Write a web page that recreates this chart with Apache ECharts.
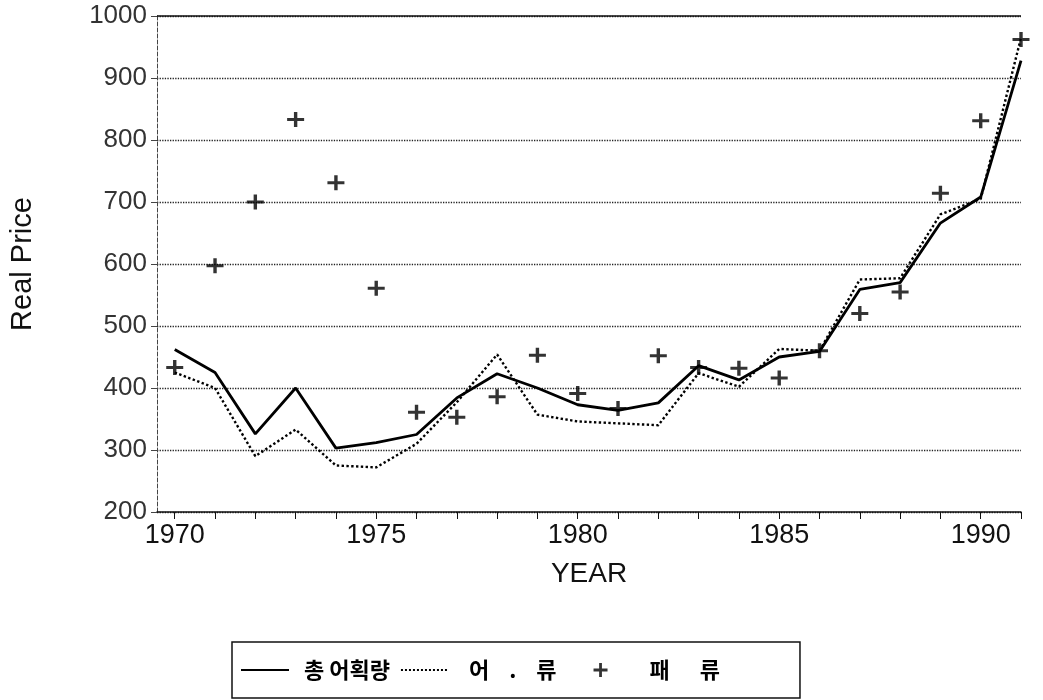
<!DOCTYPE html>
<html>
<head>
<meta charset="utf-8">
<script src="https://cdn.jsdelivr.net/npm/echarts@6/dist/echarts.min.js"></script>
<style>
  html, body { margin: 0; padding: 0; background: #fff; }
  #chart { width: 1043px; height: 700px; }
</style>
</head>
<body>
<div id="chart"></div>
<script>
const years = [1970,1971,1972,1973,1974,1975,1976,1977,1978,1979,1980,1981,1982,1983,1984,1985,1986,1987,1988,1989,1990,1991]
// 총 어획량 (solid)
const totalCatch = [462,425,326,400,303,312,325,384,423,400,373,364,376,436,413,450,459,559,570,666,708,928]
// 어 류 (dotted)
const fishes = [425,400,290,333,275,272,310,377,454,357,346,343,340,424,402,463,460,575,577,680,705,965]
// 패 류 (plus markers)
const shellfish = [433,597,700,833,731,561,361,353,386,453,391,367,452,433,432,416,460,520,555,714,831,962]
const yearLabels = [1970,1975,1980,1985,1990]
const seriesNames = ['총 어획량', '어 류', '패 류']

const pair = arr => years.map((y, i) => [y, arr[i]])
const plus = 'path://M4,0H6V4H10V6H6V10H4V6H0V4H4Z'
const font = 'Liberation Sans, Arial, sans-serif'
const krFont = 'Noto Sans CJK KR'
const hidden = { color: 'rgba(0,0,0,0)', borderColor: 'rgba(0,0,0,0)', borderWidth: 0 }
const legendText = {
  '총 어획량': '{t1|총 어획량}',
  '어 류': '{t2|어    .    류\u3000 }',
  '패 류': '{t3|패      류}'
}
const legendFont = { color: '#000', fontSize: 22, fontWeight: 'bold', fontFamily: krFont }

const option = {
  animation: false,
  grid: { left: 153, right: 22, top: 16, bottom: 188, containLabel: false },
  xAxis: {
    type: 'value',
    min: 1969.56,
    max: 1991,
    name: 'YEAR',
    nameLocation: 'middle',
    nameGap: 48,
    nameTextStyle: { color: '#111', fontSize: 28, fontFamily: font },
    axisLine: { lineStyle: { color: '#111', width: 1.5 } },
    axisTick: { show: true, length: 7, lineStyle: { color: '#111' }, customValues: years },
    axisLabel: { color: '#111', fontSize: 27, fontFamily: font, margin: 10, customValues: yearLabels, formatter: v => String(v) },
    splitLine: { show: false }
  },
  yAxis: {
    type: 'value',
    min: 200,
    max: 1000,
    interval: 100,
    name: 'Real Price',
    nameLocation: 'middle',
    nameRotate: 90,
    nameGap: 120,
    nameTextStyle: { color: '#111', fontSize: 29, fontFamily: font },
    axisLine: { show: true, lineStyle: { color: '#444', type: 'dashed', width: 1 } },
    axisTick: { show: true, length: 6, lineStyle: { color: '#444' } },
    axisLabel: { color: '#333', fontSize: 26, fontFamily: font, margin: 10, formatter: v => String(v) },
    splitLine: { show: true, lineStyle: { color: '#222', type: 'dotted', width: 1.3 } }
  },
  legend: {
    left: 232,
    bottom: 2,
    padding: [17, 80, 17, 8],
    borderColor: '#111',
    borderWidth: 1.5,
    itemWidth: 48,
    itemHeight: 14,
    itemGap: 10,
    formatter: name => legendText[name],
    textStyle: {
      ...legendFont,
      rich: {
        t1: { ...legendFont, padding: [0, 0, 0, 10] },
        t2: { ...legendFont, padding: [0, 0, 0, 15] },
        t3: { ...legendFont, padding: [0, 0, 0, 20] }
      }
    },
    data: [
      { name: seriesNames[0], itemStyle: hidden },
      { name: seriesNames[1], itemStyle: hidden },
      { name: seriesNames[2], icon: plus, itemStyle: { color: '#000' } }
    ]
  },
  series: [
    {
      name: seriesNames[0],
      type: 'line',
      data: pair(totalCatch),
      symbol: 'none',
      lineStyle: { color: '#000', width: 2.8 },
      itemStyle: { color: '#000' },
      markLine: {
        silent: true,
        symbol: 'none',
        label: { show: false },
        lineStyle: { color: '#111', type: 'solid', width: 1.5 },
        data: [{ yAxis: 1000 }]
      }
    },
    {
      name: seriesNames[1],
      type: 'line',
      data: pair(fishes),
      symbol: 'none',
      lineStyle: { color: '#000', width: 2.4, type: 'dotted' },
      itemStyle: { color: '#000' }
    },
    {
      name: seriesNames[2],
      type: 'scatter',
      data: pair(shellfish),
      symbol: plus,
      symbolSize: [17, 15],
      itemStyle: { color: '#000' }
    }
  ]
}

const chart = echarts.init(document.getElementById('chart'))
chart.setOption(option)
</script>
</body>
</html>
